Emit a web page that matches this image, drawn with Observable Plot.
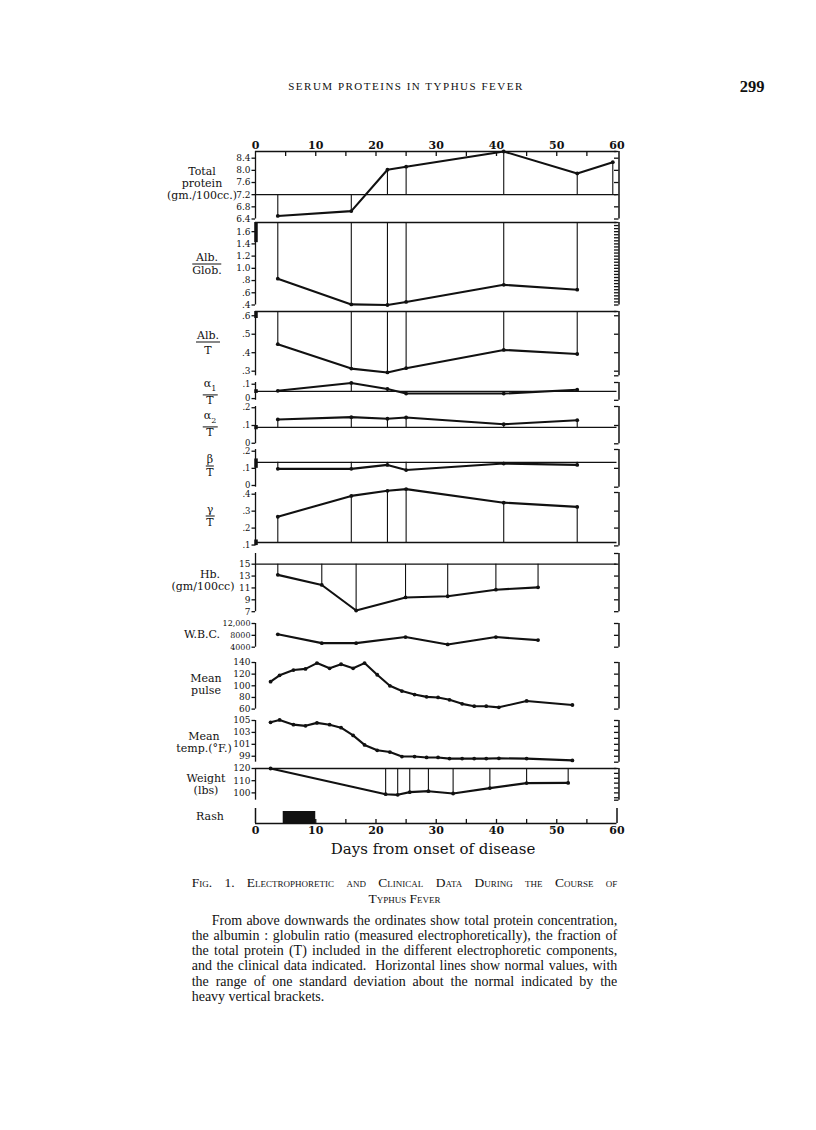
<!DOCTYPE html>
<html><head><meta charset="utf-8">
<script src="https://cdn.jsdelivr.net/npm/d3@7"></script>
<script src="https://cdn.jsdelivr.net/npm/@observablehq/plot@0.6"></script>
<style>
body{margin:0;background:#fff;}
#page{position:relative;width:816px;height:1130px;overflow:hidden;background:#fff;color:#111;}
.lab{position:absolute;font-family:"DejaVu Serif",serif;font-size:11px;line-height:12px;text-align:center;white-space:nowrap;transform:translate(-50%,-50%);}
.frac .num{border-bottom:1.3px solid #111;padding:0 1px 0 1px;}
.hdr{position:absolute;font-family:"Liberation Serif",serif;}
.cl{position:absolute;left:191.7px;width:425.6px;font-family:"Liberation Serif",serif;font-size:14px;line-height:15px;text-align:justify;text-align-last:justify;white-space:nowrap;}
.cl.last{text-align-last:left;}
</style></head>
<body><div id="page">
<div class="hdr" style="left:206px;width:400px;top:80px;text-align:center;font-size:11px;letter-spacing:1.5px;">SERUM PROTEINS IN TYPHUS FEVER</div>
<div class="hdr" style="left:730px;width:44px;top:77px;text-align:center;font-size:16.5px;font-weight:bold;">299</div>

<div class="lab" style="left:202px;top:184px;">Total<br>protein<br>(gm./100cc.)</div>
<div class="lab frac" style="left:207px;top:264px;"><div class="num">Alb.</div><div>Glob.</div></div>
<div class="lab frac" style="left:208px;top:343px;"><div class="num">Alb.</div><div style="margin-top:2px">T</div></div>
<div class="lab frac" style="left:210px;top:393px;"><div class="num">α<sub style="font-size:8px">1</sub></div><div>T</div></div>
<div class="lab frac" style="left:210px;top:425px;"><div class="num">α<sub style="font-size:8px">2</sub></div><div>T</div></div>
<div class="lab frac" style="left:210px;top:466px;"><div class="num">β</div><div>T</div></div>
<div class="lab frac" style="left:210px;top:516px;"><div class="num">γ</div><div>T</div></div>
<div class="lab" style="left:203px;top:581px;">&nbsp;&nbsp;&nbsp;&nbsp;Hb.<br>(gm/100cc)</div>
<div class="lab" style="left:202px;top:635px;">W.B.C.</div>
<div class="lab" style="left:206px;top:685px;">Mean<br>pulse</div>
<div class="lab" style="left:204px;top:743px;">Mean<br>temp.(°F.)</div>
<div class="lab" style="left:206px;top:785px;">Weight<br>(lbs)</div>
<div class="lab" style="left:210px;top:817px;">Rash</div>
<div class="lab" style="left:433px;top:849px;font-size:15px;">Days from onset of disease</div>

<div class="cl" style="top:875px;font-size:13.5px;font-variant:small-caps;">Fig. 1. Electrophoretic and Clinical Data During the Course of</div>
<div class="cl last" style="top:890.5px;font-size:13.5px;font-variant:small-caps;text-align:center;text-align-last:center;">Typhus Fever</div>
<div class="cl" style="top:913px;padding-left:20px;width:405.6px;">From above downwards the ordinates show total protein concentration,</div>
<div class="cl" style="top:928px;">the albumin : globulin ratio (measured electrophoretically), the fraction of</div>
<div class="cl" style="top:943px;">the total protein (T) included in the different electrophoretic components,</div>
<div class="cl" style="top:958px;">and the clinical data indicated.&nbsp; Horizontal lines show normal values, with</div>
<div class="cl" style="top:973.5px;">the range of one standard deviation about the normal indicated by the</div>
<div class="cl last" style="top:989px;">heavy vertical brackets.</div>
</div>
<script>
// ---------------- data ----------------
const proteinDays = [3.7, 15.9, 21.9, 25, 41.2, 53.4, 59.3];
const totalProtein = [6.5, 6.66, 8.02, 8.12, 8.62, 7.9, 8.27];
const electroDays = [3.7, 15.9, 21.9, 25, 41.2, 53.4];
const albGlob = [0.83, 0.41, 0.40, 0.45, 0.73, 0.65];
const albT = [0.446, 0.314, 0.293, 0.316, 0.415, 0.393];
const alpha1T = [0.054, 0.109, 0.067, 0.035, 0.035, 0.062];
const alpha2T = [0.134, 0.147, 0.138, 0.145, 0.107, 0.13];
const betaT = [0.097, 0.097, 0.12, 0.09, 0.128, 0.12];
const gammaT = [0.267, 0.39, 0.42, 0.43, 0.35, 0.325];
const bloodDays = [3.7, 11, 16.7, 24.9, 31.9, 39.9, 46.9];
const hb = [13.2, 11.5, 7.2, 9.4, 9.6, 10.7, 11.1];
const wbc = [8340, 5370, 5370, 7420, 4920, 7420, 6390];
const vitalDays = [2.5, 4, 6.3, 8.3, 10.2, 12.3, 14.2, 16.2, 18.1, 20.2, 22.3, 24.3, 26.4, 28.4, 30.3, 32.2, 34.3, 36.3, 38.3, 40.4, 45, 52.6];
const pulse = [107, 118, 127, 129, 139, 130, 137, 130, 139, 119, 100, 91, 85, 81, 80, 76, 69, 65, 65, 63, 74, 67];
const temp = [104.7, 105.1, 104.3, 104.1, 104.6, 104.3, 103.8, 102.5, 100.9, 100.0, 99.7, 98.95, 98.95, 98.8, 98.8, 98.6, 98.6, 98.6, 98.6, 98.65, 98.6, 98.3];
const weightDays = [2.5, 21.6, 23.6, 25.6, 28.7, 32.8, 38.9, 45, 51.9];
const weight = [120, 98.9, 98.4, 100.6, 101.4, 99.5, 103.9, 108, 108.2];
const rashStart = [4.6];
const rashEnd = [10];
// normal values and one-SD brackets
const normals = {tp: 7.2, ag: 1.75, at: 0.623, a1: 0.05, a2: 0.089, b: 0.135, g: 0.115, hb: 15, wt: 120};
const sdBrackets = {ag: [1.42, 1.75], at: [0.585, 0.623], a1: [0.036, 0.062], a2: [0.076, 0.1], b: [0.1, 0.155], g: [0.097, 0.13]};
const dayTicks = [0, 10, 20, 30, 40, 50, 60];

// ---------------- layout ----------------
const page = document.getElementById("page");
const W = 816, X0 = 255, X1 = 616.5, FW = X1 - X0, PAD = 24;
const FONT = "'DejaVu Serif', serif";
const INK = "#111";

function panel(top, bottom, domain, marks) {
  const svg = Plot.plot({
    width: W, height: bottom - top + 2 * PAD,
    marginLeft: X0, marginRight: W - X1, marginTop: PAD, marginBottom: PAD,
    x: {domain: [0, 60], axis: null},
    y: {domain, axis: null},
    style: {background: "transparent", overflow: "visible", fontFamily: FONT, color: INK},
    marks
  });
  svg.style.position = "absolute";
  svg.style.left = "0px";
  svg.style.top = (top - PAD) + "px";
  page.appendChild(svg);
}
const frac = d => d === 0 ? "0" : (d < 1 ? d.toFixed(1).replace(/^0/, "") : d.toFixed(1));

function std({domain, ticks, fmt = String, right = [], heavy, normal, days, values, drop = true, fontSize = 9}) {
  const [lo, hi] = domain;
  const rows = days.map((d, i) => ({day: d, v: values[i]}));
  const m = [
    Plot.ruleX([0], {y1: lo, y2: hi, stroke: INK, strokeWidth: 1.3}),
    Plot.axisY({anchor: "left", ticks, tickFormat: fmt, tickSize: 3.5, tickPadding: 1.5, fontSize, label: null, stroke: INK, strokeWidth: 1.3}),
    Plot.ruleX([60], {y1: lo, y2: hi, dx: 2, stroke: INK, strokeWidth: 1.5}),
    Plot.ruleY([lo, ...right, hi], {insetLeft: FW - 4.5, dx: 2, stroke: INK, strokeWidth: 1.3})
  ];
  if (heavy) m.push(Plot.ruleX([0], {y1: heavy[0], y2: heavy[1], dx: 0.5, stroke: INK, strokeWidth: 3.5}));
  if (normal != null) {
    m.push(Plot.ruleY([normal], {stroke: INK, strokeWidth: 1.3}));
    if (drop) m.push(Plot.ruleX(rows, {x: "day", y1: normal, y2: "v", stroke: INK, strokeWidth: 1.1}));
  }
  m.push(Plot.lineY(rows, {x: "day", y: "v", stroke: INK, strokeWidth: 2.1}));
  m.push(Plot.dot(rows, {x: "day", y: "v", r: 1.9, fill: INK}));
  return m;
}

// Total protein (with the top day axis)
panel(151, 218.5, [6.4, 8.62], [
  Plot.ruleY([8.62], {stroke: INK, strokeWidth: 1.5}),
  Plot.ruleX(d3.range(5, 60, 5), {insetBottom: (218.5 - 151) - 5, stroke: INK, strokeWidth: 1.3}),
  Plot.axisX({anchor: "top", ticks: dayTicks, tickSize: 0, tickPadding: 3, fontSize: 11, fontWeight: "bold", label: null}),
  ...std({domain: [6.4, 8.62], ticks: [6.4, 6.8, 7.2, 7.6, 8.0, 8.4], fmt: d => d.toFixed(1), right: [6.8, 7.2, 7.6, 8.0, 8.4],
    normal: normals.tp, days: proteinDays, values: totalProtein})
]);
// Albumin / globulin
panel(221.5, 304, [0.4, 1.75], std({domain: [0.4, 1.75], ticks: [0.4, 0.6, 0.8, 1.0, 1.2, 1.4, 1.6], fmt: frac,
  right: d3.range(0.45, 1.74, 0.05), heavy: sdBrackets.ag, normal: normals.ag, days: electroDays, values: albGlob}));
// Albumin / T
panel(310.7, 375, [0.275, 0.623], std({domain: [0.275, 0.623], ticks: [0.3, 0.4, 0.5, 0.6], fmt: frac,
  right: [0.3, 0.4, 0.5, 0.6], heavy: sdBrackets.at, normal: normals.at, days: electroDays, values: albT}));
// alpha1 / T
panel(381.7, 399.5, [-0.012, 0.112], std({domain: [-0.012, 0.112], ticks: [0, 0.1], fmt: frac, fontSize: 8.5,
  heavy: sdBrackets.a1, normal: normals.a1, days: electroDays, values: alpha1T}));
// alpha2 / T
panel(406, 443.3, [-0.003, 0.207], std({domain: [-0.003, 0.207], ticks: [0, 0.1, 0.2], fmt: frac, right: [0.1], fontSize: 8.5,
  heavy: sdBrackets.a2, normal: normals.a2, days: electroDays, values: alpha2T}));
// beta / T
panel(449, 486.7, [-0.01, 0.21], std({domain: [-0.01, 0.21], ticks: [0, 0.1, 0.2], fmt: frac, right: [0.1], fontSize: 8.5,
  heavy: sdBrackets.b, normal: normals.b, days: electroDays, values: betaT}));
// gamma / T
panel(491.6, 545, [0.095, 0.41], std({domain: [0.095, 0.41], ticks: [0.1, 0.2, 0.3, 0.4], fmt: frac, right: [0.2, 0.3], fontSize: 8.5,
  heavy: sdBrackets.g, normal: normals.g, days: electroDays, values: gammaT}));
// Hb
panel(553.3, 611.5, [7, 16.8], std({domain: [7, 16.8], ticks: [7, 9, 11, 13, 15], right: [9, 11, 13, 15],
  normal: normals.hb, days: bloodDays, values: hb}));
// WBC
panel(623.3, 647, [4000, 12000], std({domain: [4000, 12000], ticks: [4000, 8000, 12000], right: [8000], fontSize: 8,
  fmt: d => d === 12000 ? "12,000" : String(d), days: bloodDays, values: wbc}));
// Mean pulse
panel(661.7, 708.3, [60, 140], std({domain: [60, 140], ticks: [60, 80, 100, 120, 140], right: [80, 100, 120],
  days: vitalDays, values: pulse}));
// Mean temperature
panel(720, 761.7, [98, 105], std({domain: [98, 105], ticks: [99, 101, 103, 105], right: [99, 100, 101, 102, 103, 104],
  days: vitalDays, values: temp}));
// Weight
panel(768.3, 800, [94, 120], std({domain: [94, 120], ticks: [100, 110, 120], right: [96, 100, 104, 108, 112, 116],
  normal: normals.wt, days: weightDays, values: weight}));
// Rash + bottom day axis
panel(807.7, 822.7, [0, 1], [
  Plot.rect(rashStart.map((s, i) => ({s, e: rashEnd[i]})), {x1: "s", x2: "e", y1: 0, y2: 0.8, fill: INK}),
  Plot.ruleY([0], {stroke: INK, strokeWidth: 1.5}),
  Plot.ruleX([0, 60], {y1: 0, y2: 1, stroke: INK, strokeWidth: 1.5}),
  Plot.ruleX(d3.range(5, 60, 5), {y1: 0, y2: 0.27, stroke: INK, strokeWidth: 1.3}),
  Plot.axisX({anchor: "bottom", ticks: dayTicks, tickSize: 0, tickPadding: 3, fontSize: 11, fontWeight: "bold", label: null})
]);
</script>
</body></html>
